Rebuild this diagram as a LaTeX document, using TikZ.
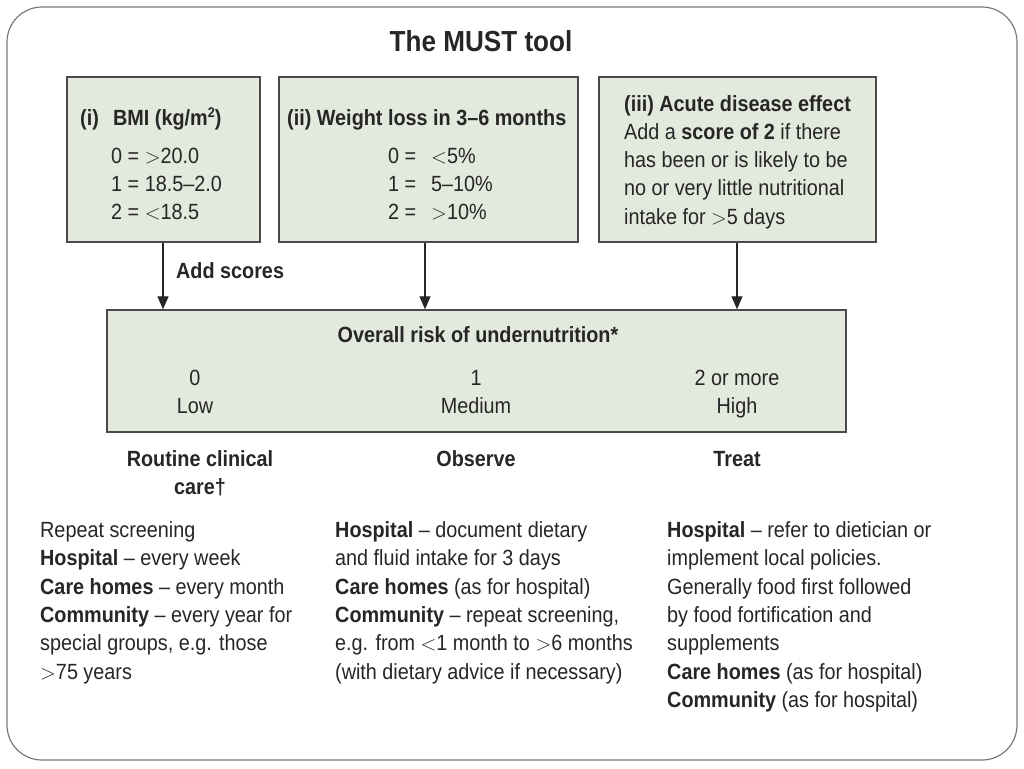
\documentclass[tikz,border=0pt]{standalone}
\usepackage{fontspec}
\setmainfont{Liberation Sans}[FakeStretch=0.9]
\usetikzlibrary{arrows.meta}
\definecolor{ink}{HTML}{262626}
\definecolor{boxfill}{HTML}{E3E9DC}
\definecolor{boxline}{HTML}{4A4A4A}
\definecolor{framecol}{HTML}{7A7A7A}
\newcommand\mybody{\fontsize{22}{28.3}\selectfont}
\newcommand\mytitle{\fontsize{29}{34}\selectfont\bfseries}
\newcommand\gtr{\ensuremath{>}}
\newcommand\lss{\ensuremath{<}}
\begin{document}
\begin{tikzpicture}[x=1pt,y=-1pt,
  panel/.style={draw=boxline, fill=boxfill, line width=1.4pt, inner sep=0pt, rectangle},
  txt/.style={anchor=base west, inner sep=0pt, text=ink, font=\mybody},
  ctxt/.style={anchor=base, inner sep=0pt, text=ink, font=\mybody},
  arr/.style={draw=ink, line width=1.2pt, -{Triangle[length=13pt,width=11pt]}}]
\useasboundingbox (0,0) rectangle (1024,768);
\draw[framecol, line width=1.2pt, rounded corners=35pt] (7,7) rectangle (1017,760);

\node[anchor=base, inner sep=0pt, text=ink, font=\mytitle] (title) at (481,52) {The MUST tool};

% three input boxes
\node[panel, minimum width=193pt, minimum height=165pt] (b1) at (163.5,159.5) {};
\node[panel, minimum width=299pt, minimum height=165pt] (b2) at (428.5,159.5) {};
\node[panel, minimum width=277pt, minimum height=165pt] (b3) at (737.5,159.5) {};

% box 1
\node[txt, font=\mybody\bfseries] (b1h1) at (80,125) {(i)};
\node[txt, font=\mybody\bfseries] (b1h2) at (113,125) {BMI (kg/m{\fontsize{14}{14}\selectfont\raisebox{8pt}{2}})};
\node[txt] (b1l) at (111,163) {\parbox[t]{140pt}{0 = \gtr20.0\\1 = 18.5–2.0\\2 = \lss18.5}};

% box 2
\node[txt, font=\mybody\bfseries] (b2h) at (287,125) {(ii) Weight loss in 3–6 months};
\node[txt] (b2a) at (388,163) {\parbox[t]{40pt}{0 =\\1 =\\2 =}};
\node[txt] (b2b) at (431,163) {\parbox[t]{100pt}{\lss5\%\\5–10\%\\\gtr10\%}};

% box 3
\node[txt] (b3t) at (624,111) {\parbox[t]{250pt}{\textbf{(iii) Acute disease effect}\\Add a \textbf{score of 2} if there\\has been or is likely to be\\no or very little nutritional\\intake for \gtr5 days}};

% overall box
\node[panel, minimum width=739pt, minimum height=122pt] (big) at (476.5,371) {};
\node[ctxt, font=\mybody\bfseries] (ovr) at (478,342) {Overall risk of undernutrition*};
\node[ctxt] (r0a) at (195,385) {0};
\node[ctxt] (r0b) at (195,413) {Low};
\node[ctxt] (r1a) at (476,385) {1};
\node[ctxt] (r1b) at (476,413) {Medium};
\node[ctxt] (r2a) at (737,385) {2 or more};
\node[ctxt] (r2b) at (737,413) {High};

% arrows
\draw[arr] ([xshift=-0.5pt]b1.south) -- ([xshift=-0.5pt]b1.south |- big.north);
\draw[arr] ([xshift=-3.5pt]b2.south) -- ([xshift=-3.5pt]b2.south |- big.north);
\draw[arr] ([xshift=-0.5pt]b3.south) -- ([xshift=-0.5pt]b3.south |- big.north);
\node[txt, font=\mybody\bfseries] (add) at (176,278) {Add scores};

% actions
\node[ctxt, font=\mybody\bfseries] (act1a) at (200,466) {Routine clinical};
\node[ctxt, font=\mybody\bfseries] (act1b) at (200,494) {care†};
\node[ctxt, font=\mybody\bfseries] (act2) at (476,466) {Observe};
\node[ctxt, font=\mybody\bfseries] (act3) at (737,466) {Treat};

% columns
\node[txt] (c1) at (40,537.5) {\parbox[t]{290pt}{Repeat screening\\\textbf{Hospital} – every week\\\textbf{Care homes} – every month\\\textbf{Community} – every year for\\special groups, e.g. those\\\gtr75 years}};
\node[txt] (c2) at (335,537.5) {\parbox[t]{320pt}{\textbf{Hospital} – document dietary\\and fluid intake for 3 days\\\textbf{Care homes} (as for hospital)\\\textbf{Community} – repeat screening,\\e.g. from \lss1 month to \gtr6 months\\(with dietary advice if necessary)}};
\node[txt] (c3) at (667,537.5) {\parbox[t]{320pt}{\textbf{Hospital} – refer to dietician or\\implement local policies.\\Generally food first followed\\by food fortification and\\supplements\\\textbf{Care homes} (as for hospital)\\\textbf{Community} (as for hospital)}};
\end{tikzpicture}
\end{document}
